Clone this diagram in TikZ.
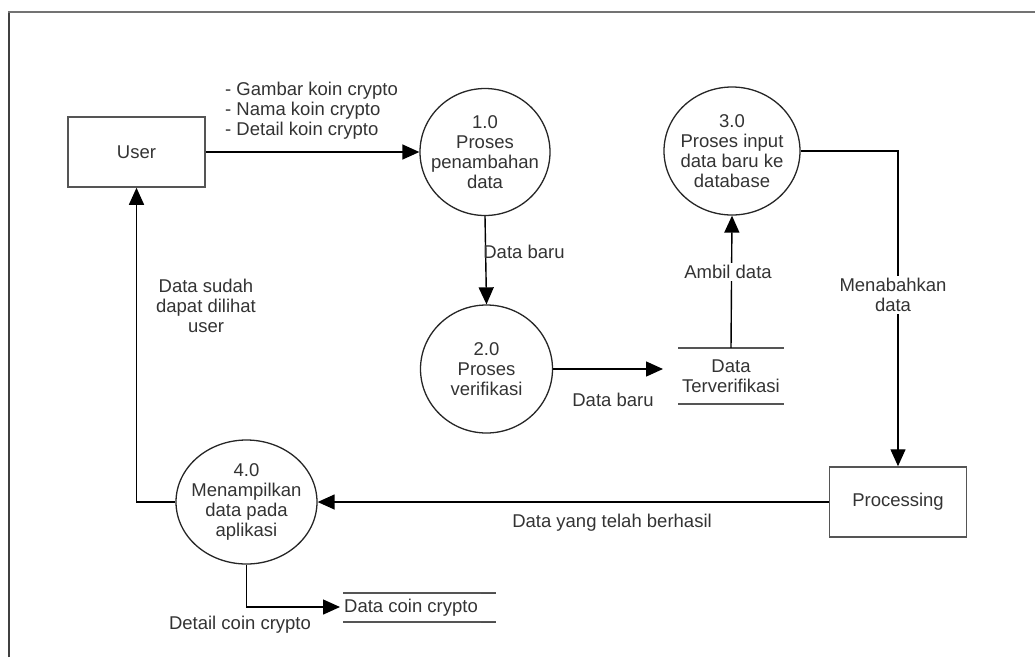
\documentclass[tikz,border=0pt]{standalone}
\usepackage{fontspec}
\setmainfont{Liberation Sans}
\usetikzlibrary{arrows.meta,shapes.geometric}
\definecolor{txt}{HTML}{333333}
\definecolor{frm}{HTML}{555555}
\tikzset{
  every node/.style={font=\fontsize{18.5}{20}\selectfont, text=txt},
  extbox/.style={draw=frm, line width=1.5pt, minimum width=137pt, minimum height=70pt},
  procc/.style={draw=black!85, line width=1.3pt, ellipse, align=center, inner sep=-20pt},
  flow/.style={draw=black, line width=1.4pt, -{Triangle[length=17pt,width=15pt]}},
  lbl/.style={align=center, inner sep=1pt},
  onl/.style={align=center, fill=white, inner sep=2pt},
  storeline/.style={draw=frm, line width=1.4pt}
}
\begin{document}
\begin{tikzpicture}[x=1pt,y=-1pt]
\useasboundingbox (0,0) rectangle (1035,657);
% frame
\draw[draw=black!55, line width=2pt] (8.5,657) -- (8.5,11.5) -- (1035,11.5);
\draw[draw=black!75, line width=2pt] (8.5,657) -- (8.5,12.5);

% external entities
\node[extbox] (user) at (136.5,152) {User};
\node[extbox] (proc) at (898,502) {Processing};

% processes
\node[procc, minimum width=130pt, minimum height=127pt] (p1) at (485,152) {1.0\\Proses\\penambahan\\data};
\node[procc, minimum width=132pt, minimum height=128pt] (p2) at (486.5,369) {2.0\\Proses\\verifikasi};
\node[procc, minimum width=136pt, minimum height=128pt] (p3) at (732,151) {3.0\\Proses input\\data baru ke\\database};
\node[procc, minimum width=141pt, minimum height=124pt] (p4) at (246.5,502) {4.0\\Menampilkan\\data pada\\aplikasi};

% data stores
\node[lbl, minimum width=106pt, minimum height=56pt] (ds1) at (731,376) {Data\\Terverifikasi};
\draw[storeline] (678,348) -- (784,348);
\draw[storeline] (678,404) -- (784,404);
\coordinate (ds1in) at (663,369);

\node[lbl, anchor=west] (ds2) at (343,607.5) {Data coin crypto};
\draw[storeline] (343,593) -- (496,593);
\draw[storeline] (343,622) -- (496,622);
\draw[draw=black!70, line width=1.6pt] (481,593.6) -- (496,593.6);
\draw[draw=black!70, line width=1.6pt] (481,622.6) -- (496,622.6);
\coordinate (ds2in) at (340,607);

% flows
\draw[flow] (user.east) -- (p1.west);
\draw[flow] (p1.south) -- (p2.north);
\draw[flow] (p2.east) -- (ds1in);
\draw[flow] (ds1.north) -- (p3.south);
\draw[flow] (p3.east) -| (proc.north);
\draw[flow] (proc.west) -- (p4.east);
\draw[flow] (p4.west) -| (user.south);
\draw[flow] (p4.south) |- (ds2in);

% labels
\node[lbl, align=left, anchor=west] (l1) at (224,111) {- Gambar koin crypto\\- Nama koin crypto\\- Detail koin crypto};
\node[lbl] (l2) at (524,252) {Data baru};
\node[lbl] (l3) at (613,400) {Data baru};
\node[onl] (l4) at (728,272) {Ambil data};
\node[onl] (l5) at (893,295) {Menabahkan\\data};
\node[lbl] (l6) at (612,523) {Data yang telah berhasil};
\node[lbl] (l7) at (206,306) {Data sudah\\dapat dilihat\\user};
\node[lbl] (l8) at (240,625) {Detail coin crypto};
\end{tikzpicture}
\end{document}
